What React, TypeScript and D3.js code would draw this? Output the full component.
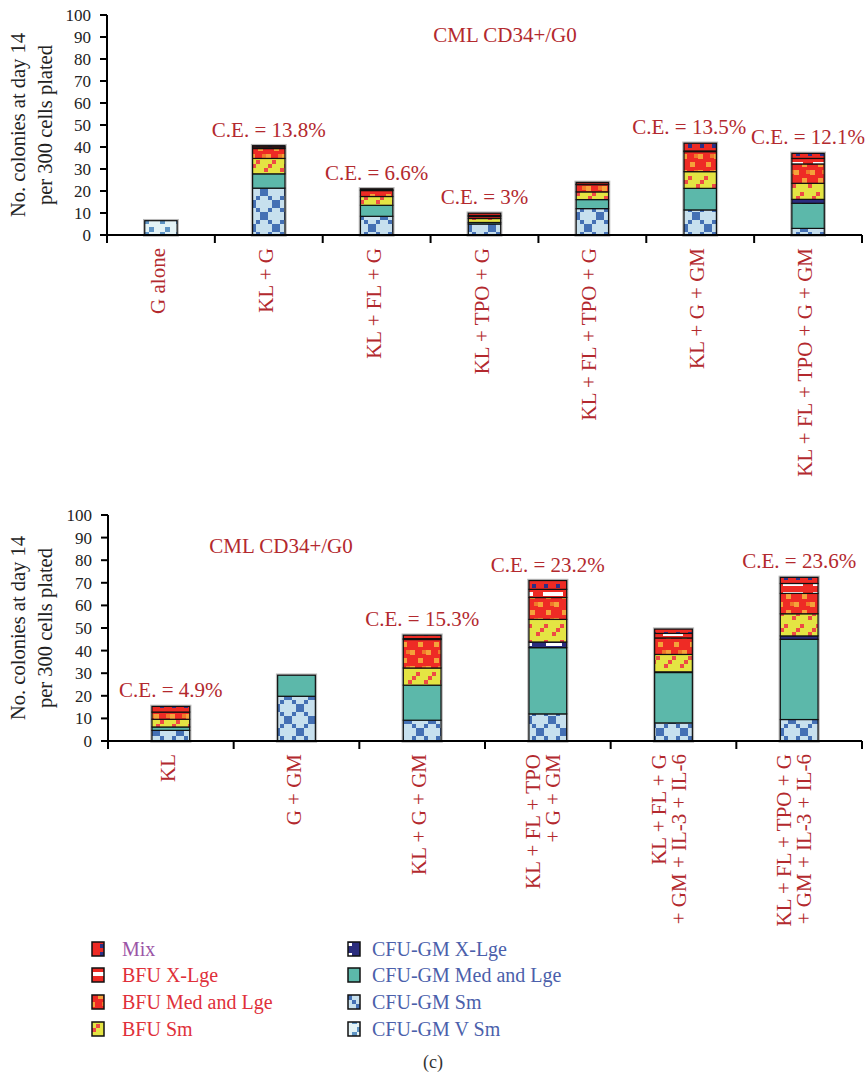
import React from "react";
import * as d3 from "d3";

// ---- Top panel data (colonies per 300 cells plated, day 14) ----
const topCategories = [
  ["G alone"],
  ["KL + G"],
  ["KL + FL + G"],
  ["KL + TPO + G"],
  ["KL + FL + TPO + G"],
  ["KL + G + GM"],
  ["KL + FL + TPO + G + GM"],
];
const topVSm = [6.5, 0, 0, 0, 0, 0, 0];
const topSm = [0, 21.3, 8.5, 5, 12, 11.4, 3];
const topMedLge = [0, 6.5, 5, 0.7, 4.1, 9.8, 11.4];
const topCfuXLge = [0, 0, 0, 0, 0, 0, 1.8];
const topBfuSm = [0, 7, 4, 1.8, 3.5, 7.6, 7.3];
const topBfuMed = [0, 4.5, 2.7, 0.9, 3.3, 9.1, 8.8];
const topBfuXLge = [0, 0.7, 0.3, 0.5, 0.2, 0.3, 2.5];
const topMix = [0, 0.6, 0.5, 1.0, 0.8, 3.5, 2.3];
const topCE = [null, "13.8%", "6.6%", "3%", null, "13.5%", "12.1%"];

// ---- Bottom panel data ----
const bottomCategories = [
  ["KL"],
  ["G + GM"],
  ["KL + G + GM"],
  ["KL + FL + TPO", "+ G + GM"],
  ["KL + FL + G", "+ GM + IL-3 + IL-6"],
  ["KL + FL + TPO + G", "+ GM + IL-3 + IL-6"],
];
const bottomVSm = [0, 0, 0, 0, 0, 0];
const bottomSm = [4.7, 19.8, 9.2, 12, 8, 9.5];
const bottomMedLge = [1.5, 9.3, 15.5, 29.3, 22.3, 35.5];
const bottomCfuXLge = [0, 0, 0, 2.5, 0.3, 1.5];
const bottomBfuSm = [3.4, 0, 7.6, 10, 7.7, 9.8];
const bottomBfuMed = [3.2, 0, 12.6, 9.7, 7.3, 9];
const bottomBfuXLge = [0, 0, 0.4, 3.6, 2, 4.4];
const bottomMix = [2.5, 0, 1.5, 3.9, 1.9, 2.7];
const bottomCE = ["4.9%", null, "15.3%", "23.2%", null, "23.6%"];

const yTicks = [0, 10, 20, 30, 40, 50, 60, 70, 80, 90, 100];

// stacking order, bottom to top
const seriesKeys = ["vSm", "sm", "medLge", "cfuXLge", "bfuSm", "bfuMed", "bfuXLge", "mix"];
const fills: Record<string, string> = {
  vSm: "url(#p-vsm)",
  sm: "url(#p-sm)",
  medLge: "#5cb8aa",
  cfuXLge: "url(#p-cfuxl)",
  bfuSm: "url(#p-bfusm)",
  bfuMed: "url(#p-bfumed)",
  bfuXLge: "url(#p-bfuxl)",
  mix: "url(#p-mix)",
};

const legendCol1 = [
  { key: "mix", label: "Mix", color: "#9b55a6" },
  { key: "bfuXLge", label: "BFU X-Lge", color: "#e0303a" },
  { key: "bfuMed", label: "BFU Med and Lge", color: "#e0303a" },
  { key: "bfuSm", label: "BFU Sm", color: "#e0303a" },
];
const legendCol2 = [
  { key: "cfuXLge", label: "CFU-GM X-Lge", color: "#4b5fab" },
  { key: "medLge", label: "CFU-GM Med and Lge", color: "#4b5fab" },
  { key: "sm", label: "CFU-GM Sm", color: "#4b5fab" },
  { key: "vSm", label: "CFU-GM V Sm", color: "#4b5fab" },
];

const FONT = "'Liberation Serif', 'Times New Roman', serif";
const RED = "#b3292e";

function buildRows(cats: string[][], cols: number[][]) {
  return cats.map((c, i) => {
    const row: any = { cat: c.join(" "), lines: c };
    seriesKeys.forEach((k, j) => (row[k] = cols[j][i]));
    return row;
  });
}

type PanelProps = {
  rows: any[];
  ce: (string | null)[];
  ceShift?: number[];
  x0: number;
  x1: number;
  yTop: number;
  yBottom: number;
  title: string;
  titleX: number;
  titleY: number;
};

function Panel({ rows, ce, ceShift, x0, x1, yTop, yBottom, title, titleX, titleY }: PanelProps) {
  const x = d3
    .scaleBand<string>()
    .domain(rows.map((r) => r.cat))
    .range([x0, x1])
    .paddingInner(0.7)
    .paddingOuter(0.35);
  const y = d3.scaleLinear().domain([0, 100]).range([yBottom, yTop]);
  const stacked = d3.stack<any>().keys(seriesKeys)(rows);
  const step = x.step();
  const boundaries = d3.range(rows.length + 1).map((i) => x0 + i * step);
  const midY = (yTop + yBottom) / 2;

  return (
    <g>
      {/* y-axis title */}
      <text
        transform={`translate(25,${midY}) rotate(-90)`}
        textAnchor="middle"
        fontFamily={FONT}
        fontSize={20.5}
        fill="#222"
      >
        No. colonies at day 14
      </text>
      <text
        transform={`translate(52,${midY}) rotate(-90)`}
        textAnchor="middle"
        fontFamily={FONT}
        fontSize={20.5}
        fill="#222"
      >
        per 300 cells plated
      </text>

      {/* y axis */}
      <line x1={x0} x2={x0} y1={y(100)} y2={y(0)} stroke="#000" strokeWidth={2} />
      {yTicks.map((t) => (
        <g key={t}>
          <line x1={x0 - 7} x2={x0} y1={y(t)} y2={y(t)} stroke="#000" strokeWidth={2} />
          <text
            x={x0 - 16}
            y={y(t)}
            dy="0.35em"
            textAnchor="end"
            fontFamily={FONT}
            fontSize={17}
            fill="#222"
          >
            {t}
          </text>
        </g>
      ))}

      {/* bars */}
      {rows.map((r, i) => {
        const bx = x(r.cat)!;
        const bw = x.bandwidth();
        const total = seriesKeys.reduce((s, k) => s + r[k], 0);
        return (
          <g key={r.cat}>
            <rect
              x={bx}
              y={y(total)}
              width={bw}
              height={y(0) - y(total)}
              fill="none"
              stroke="#b8b8b8"
              strokeWidth={3.5}
            />
            {stacked.map((s) => {
              const d = s[i];
              if (d[1] - d[0] <= 0) return null;
              return (
                <rect
                  key={s.key}
                  x={bx}
                  y={y(d[1])}
                  width={bw}
                  height={y(d[0]) - y(d[1])}
                  fill={fills[s.key]}
                  stroke="#111"
                  strokeWidth={1.2}
                />
              );
            })}
            {ce[i] && (
              <text
                x={bx + bw / 2 + (ceShift ? ceShift[i] : 0)}
                y={y(total) - 9}
                textAnchor="middle"
                fontFamily={FONT}
                fontSize={21}
                fill={RED}
              >
                {`C.E. = ${ce[i]}`}
              </text>
            )}
          </g>
        );
      })}

      {/* x axis */}
      <line x1={x0} x2={x1} y1={y(0)} y2={y(0)} stroke="#000" strokeWidth={2} />
      {boundaries.map((bx, i) => (
        <line key={i} x1={bx} x2={bx} y1={y(0)} y2={y(0) + 8} stroke="#000" strokeWidth={2} />
      ))}

      {/* category labels */}
      {rows.map((r) => {
        const cx = x(r.cat)! + x.bandwidth() / 2;
        const n = r.lines.length;
        return r.lines.map((ln: string, j: number) => (
          <text
            key={r.cat + j}
            transform={`translate(${cx + 4 - (n - 1) * 12 + j * 20},${y(0) + 13}) rotate(-90)`}
            textAnchor="end"
            fontFamily={FONT}
            fontSize={21}
            fill={RED}
          >
            {ln}
          </text>
        ));
      })}

      <text x={titleX} y={titleY} textAnchor="middle" fontFamily={FONT} fontSize={21} fill={RED}>
        {title}
      </text>
    </g>
  );
}

function Patterns() {
  const smCells: JSX.Element[] = [];
  for (let i = 0; i < 6; i++) {
    smCells.push(<rect key={"a" + i} x={i * 4} y={i * 4} width={4} height={4} fill="#4470b4" />);
    smCells.push(<rect key={"b" + i} x={20 - i * 4} y={i * 4} width={4} height={4} fill="#4470b4" />);
  }
  return (
    <defs>
      <pattern id="p-vsm" width={16} height={16} patternUnits="userSpaceOnUse">
        <rect width={16} height={16} fill="#e4f3f6" />
        <rect x={0} y={8} width={5} height={8} fill="#5f94c4" />
        <rect x={5} y={3} width={5} height={5} fill="#5f94c4" />
      </pattern>
      <pattern id="p-sm" width={24} height={24} patternUnits="userSpaceOnUse">
        <rect width={24} height={24} fill="#c7e0ee" />
        {smCells}
      </pattern>
      <pattern id="p-cfuxl" width={30} height={10} patternUnits="userSpaceOnUse">
        <rect width={30} height={10} fill="#2b2d7e" />
        <rect x={6} y={3} width={16} height={3} fill="#fff" />
      </pattern>
      <pattern id="p-bfusm" width={16} height={16} patternUnits="userSpaceOnUse">
        <rect width={16} height={16} fill="#e4e443" />
        <rect x={0} y={0} width={4} height={4} fill="#ee4a44" />
        <rect x={8} y={8} width={4} height={4} fill="#ee4a44" />
        <rect x={12} y={4} width={4} height={4} fill="#ee4a44" />
      </pattern>
      <pattern id="p-bfumed" width={16} height={16} patternUnits="userSpaceOnUse">
        <rect width={16} height={16} fill="#ee2b25" />
        <rect x={2} y={2} width={5} height={5} fill="#f5a23a" />
        <rect x={10} y={10} width={5} height={5} fill="#f5a23a" />
        <rect x={6} y={10} width={4} height={4} fill="#f07a2a" />
      </pattern>
      <pattern id="p-bfuxl" width={30} height={10} patternUnits="userSpaceOnUse">
        <rect width={30} height={10} fill="#ee2a24" />
        <rect x={3} y={2} width={20} height={4} fill="#fff" />
      </pattern>
      <pattern id="p-mix" width={12} height={8} patternUnits="userSpaceOnUse">
        <rect width={12} height={8} fill="#ee2a24" />
        <rect x={4} y={0} width={4} height={4} fill="#2b2f86" />
      </pattern>
    </defs>
  );
}

function Legend() {
  const rowY = [949, 975, 1002, 1029];
  const cols = [
    { items: legendCol1, sx: 92, tx: 122 },
    { items: legendCol2, sx: 348, tx: 372 },
  ];
  return (
    <g>
      {cols.map((c, ci) =>
        c.items.map((it, i) => (
          <g key={ci + "-" + i}>
            <rect
              x={c.sx}
              y={rowY[i] - 7}
              width={12}
              height={14}
              fill={fills[it.key]}
              stroke="#111"
              strokeWidth={1.5}
            />
            <text
              x={c.tx}
              y={rowY[i]}
              dy="0.35em"
              fontFamily={FONT}
              fontSize={20}
              fill={it.color}
            >
              {it.label}
            </text>
          </g>
        ))
      )}
    </g>
  );
}

export default function App() {
  const topRows = buildRows(topCategories, [
    topVSm,
    topSm,
    topMedLge,
    topCfuXLge,
    topBfuSm,
    topBfuMed,
    topBfuXLge,
    topMix,
  ]);
  const bottomRows = buildRows(bottomCategories, [
    bottomVSm,
    bottomSm,
    bottomMedLge,
    bottomCfuXLge,
    bottomBfuSm,
    bottomBfuMed,
    bottomBfuXLge,
    bottomMix,
  ]);
  return (
    <svg
      width={867}
      height={1082}
      style={{ position: "absolute", left: 0, top: 0, background: "#fff" }}
    >
      <Patterns />
      <rect width={867} height={1082} fill="#fff" />
      <Panel
        rows={topRows}
        ce={topCE}
        ceShift={[0, 0, 0, 0, 0, -11, 0]}
        x0={107}
        x1={862}
        yTop={15}
        yBottom={235}
        title="CML CD34+/G0"
        titleX={505}
        titleY={42}
      />
      <Panel
        rows={bottomRows}
        ce={bottomCE}
        x0={108}
        x1={862}
        yTop={515}
        yBottom={741}
        title="CML CD34+/G0"
        titleX={281}
        titleY={553}
      />
      <Legend />
      <text x={433} y={1068} textAnchor="middle" fontFamily={FONT} fontSize={18} fill="#333">
        (c)
      </text>
    </svg>
  );
}
